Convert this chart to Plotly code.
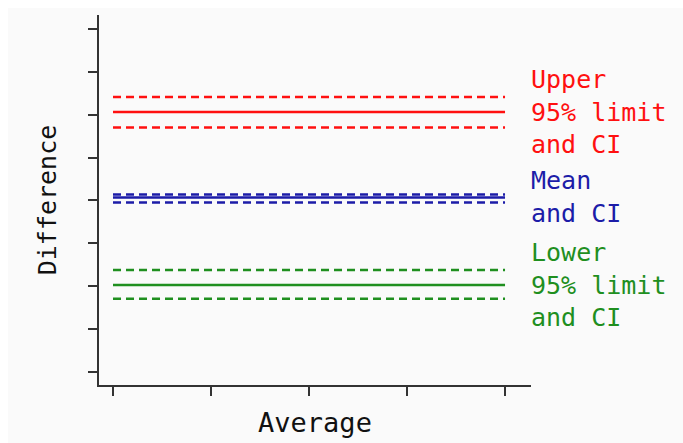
import plotly.graph_objects as go

# Data
avg_range = [0, 4]
upper_limit = 2.06
upper_ci = [1.70, 2.41]
mean_diff = 0.07
mean_ci = [-0.05, 0.14]
lower_limit = -1.97
lower_ci = [-2.29, -1.62]
x_ticks = [0, 1, 2, 3, 4]
y_ticks = [-4, -3, -2, -1, 0, 1, 2, 3, 4]

RED = "#ff1010"
BLUE = "#1c1ca8"
GREEN = "#1f8f1f"
AX = "#333333"
FONT = "DejaVu Sans Mono"

fig = go.Figure()

def add_group(limit, ci, color):
    for v in ci:
        fig.add_trace(go.Scatter(x=avg_range, y=[v, v], mode="lines",
                                 line=dict(color=color, width=2.5, dash="8px,5px"),
                                 showlegend=False, hoverinfo="skip"))
    fig.add_trace(go.Scatter(x=avg_range, y=[limit, limit], mode="lines",
                             line=dict(color=color, width=2.5),
                             showlegend=False, hoverinfo="skip"))

add_group(upper_limit, upper_ci, RED)
add_group(mean_diff, mean_ci, BLUE)
add_group(lower_limit, lower_ci, GREEN)

labels = [
    (upper_limit, "Upper<br>95% limit<br>and CI", RED),
    (mean_diff, "Mean<br>and CI", BLUE),
    (lower_limit, "Lower<br>95% limit<br>and CI", GREEN),
]
for yv, txt, col in labels:
    fig.add_annotation(x=1, xref="paper", y=yv, yref="y", text=txt,
                       showarrow=False, xanchor="left", yanchor="middle",
                       align="left", xshift=-2,
                       font=dict(family=FONT, size=25, color=col))

fig.add_shape(type="rect", xref="paper", yref="paper",
              x0=(8 - 99) / 432, x1=(690 - 99) / 432,
              y0=(388 - 450) / 373, y1=(388 - 8) / 373,
              fillcolor="#fafafa", line=dict(width=0), layer="below")

fig.update_layout(
    width=683, height=443,
    margin=dict(l=99, r=152, t=15, b=55),
    paper_bgcolor="white", plot_bgcolor="rgba(0,0,0,0)",
    showlegend=False,
    xaxis=dict(range=[-0.143, 4.265], tickvals=x_ticks, showticklabels=False,
               ticks="outside", ticklen=9, tickwidth=2, tickcolor=AX,
               showline=True, linecolor=AX, linewidth=2, showgrid=False,
               zeroline=False,
               title=dict(text="Average", standoff=18,
                          font=dict(family=FONT, size=27, color="#111"))),
    yaxis=dict(range=[-4.30, 4.32], tickvals=y_ticks, showticklabels=False,
               ticks="outside", ticklen=9, tickwidth=2, tickcolor=AX,
               showline=True, linecolor=AX, linewidth=2, showgrid=False,
               zeroline=False,
               title=dict(text="Difference", standoff=24,
                          font=dict(family=FONT, size=25, color="#111"))),
)

fig.write_html("out.html")
